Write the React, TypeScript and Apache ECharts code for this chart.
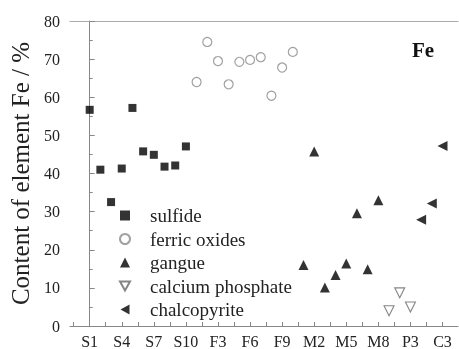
import React, { useEffect, useRef } from "react";
import * as echarts from "echarts";

const sulfideLabels = ["S1", "S2", "S3", "S4", "S5", "S6", "S7", "S8", "S9", "S10"];
const sulfideValues = [56.7, 41.0, 32.5, 41.3, 57.2, 45.8, 44.9, 41.8, 42.1, 47.1];
const ferricLabels = ["F1", "F2", "F3", "F4", "F5", "F6", "F7", "F8", "F9", "F10"];
const ferricValues = [64.0, 74.5, 69.5, 63.4, 69.3, 69.8, 70.5, 60.4, 67.8, 71.9];
const gangueLabels = ["M1", "M2", "M3", "M4", "M5", "M6", "M7", "M8"];
const gangueValues = [16.0, 45.8, 10.1, 13.4, 16.4, 29.6, 14.9, 33.0];
const phosphateLabels = ["P1", "P2", "P3"];
const phosphateValues = [4.0, 8.7, 5.0];
const chalcoLabels = ["C1", "C2", "C3"];
const chalcoValues = [27.9, 32.1, 47.2];

const categories = [
  ...sulfideLabels,
  ...ferricLabels,
  ...gangueLabels,
  ...phosphateLabels,
  ...chalcoLabels,
];

const labelEvery = 3;
const FONT = "Liberation Serif";

function pairs(labels: string[], values: number[]) {
  return labels.map((l, i) => [categories.indexOf(l), values[i]]);
}

export default function App() {
  const ref = useRef<HTMLDivElement>(null);
  useEffect(() => {
    if (!ref.current) return;
    const chart = echarts.init(ref.current, undefined, { renderer: "svg" });
    const xMin = -1.85;
    const xMax = 34.45;
    const labelVals: number[] = [];
    for (let i = 0; i < categories.length; i += labelEvery) labelVals.push(i);
    const tickVals: number[] = [];
    for (let t = -1.5; t <= xMax; t += labelEvery / 2) tickVals.push(t);

    chart.setOption({
      animation: false,
      title: {
        text: "Fe",
        left: 407,
        top: 34,
        textStyle: { fontFamily: FONT, fontWeight: "bold", fontSize: 21, color: "#111" },
      },
      grid: { left: 63, right: 1, top: 21, bottom: 21 },
      xAxis: [
        {
          type: "value",
          min: xMin,
          max: xMax,
          axisLine: { show: true, lineStyle: { color: "#888", width: 1 } },
          axisTick: {
            show: true,
            inside: true,
            length: 4,
            customValues: tickVals,
            lineStyle: { color: "#888" },
          },
          axisLabel: {
            customValues: labelVals,
            formatter: (v: number) => categories[Math.round(v)] ?? "",
            fontFamily: FONT,
            fontSize: 16,
            color: "#222",
            margin: 7,
          },
          splitLine: { show: false },
        },
        {
          type: "value",
          position: "top",
          min: xMin,
          max: xMax,
          axisLine: { show: true, lineStyle: { color: "#aaa", width: 1 } },
          axisTick: { show: false },
          axisLabel: { show: false },
          splitLine: { show: false },
        },
      ],
      yAxis: {
        type: "value",
        min: 0,
        max: 80,
        interval: 10,
        name: "Content of element Fe / %",
        nameLocation: "middle",
        nameGap: 29,
        nameTextStyle: { fontFamily: FONT, fontSize: 25, color: "#222" },
        axisLine: { show: true, lineStyle: { color: "#888" } },
        axisTick: { show: true, inside: true, length: 5, lineStyle: { color: "#888" } },
        minorTick: { show: true, splitNumber: 2, length: 3, lineStyle: { color: "#888" } },
        axisLabel: { fontFamily: FONT, fontSize: 16, color: "#222", margin: 10 },
        splitLine: { show: false },
        minorSplitLine: { show: false },
      },
      legend: {
        orient: "vertical",
        left: 114,
        top: 201,
        itemWidth: 10,
        itemHeight: 10,
        itemGap: 4.5,
        textStyle: {
          fontFamily: FONT,
          fontSize: 19,
          color: "#222",
          lineHeight: 18,
          padding: [0, 0, 0, 15],
        },
        data: [
          { name: "sulfide", icon: "rect" },
          { name: "ferric oxides", icon: "circle" },
          { name: "gangue", icon: "triangle" },
          { name: "calcium phosphate", icon: "path://M0,0 L10,0 L5,9 Z" },
          { name: "chalcopyrite", icon: "path://M9,0 L9,10 L0,5 Z" },
        ],
      },
      series: [
        {
          name: "sulfide",
          type: "scatter",
          symbol: "rect",
          symbolSize: 8,
          itemStyle: { color: "#000" },
          data: pairs(sulfideLabels, sulfideValues),
        },
        {
          name: "ferric oxides",
          type: "scatter",
          symbol: "circle",
          symbolSize: 9,
          itemStyle: { color: "#fff", borderColor: "#8a8a8a", borderWidth: 1.2 },
          data: pairs(ferricLabels, ferricValues),
        },
        {
          name: "gangue",
          type: "scatter",
          symbol: "triangle",
          symbolSize: 10,
          itemStyle: { color: "#000" },
          data: pairs(gangueLabels, gangueValues),
        },
        {
          name: "calcium phosphate",
          type: "scatter",
          symbol: "triangle",
          symbolSize: 10,
          symbolRotate: 180,
          itemStyle: { color: "#fff", borderColor: "#666", borderWidth: 1.1 },
          data: pairs(phosphateLabels, phosphateValues),
        },
        {
          name: "chalcopyrite",
          type: "scatter",
          symbol: "triangle",
          symbolSize: 10,
          symbolRotate: 90,
          itemStyle: { color: "#000" },
          data: pairs(chalcoLabels, chalcoValues),
        },
      ],
    });
    return () => chart.dispose();
  }, []);
  return (
    <div
      ref={ref}
      style={{ position: "fixed", left: 0, top: 0, width: 459, height: 349 }}
    />
  );
}
